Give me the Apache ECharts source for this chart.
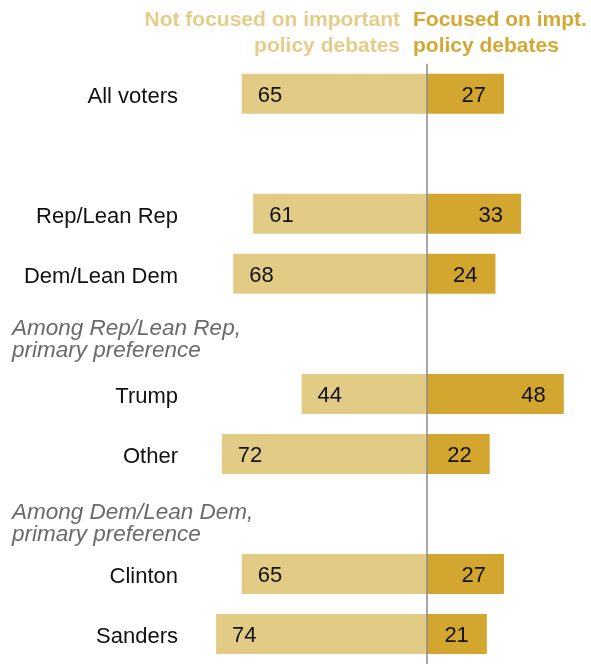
<!DOCTYPE html>
<html>
<head>
<meta charset="utf-8">
<script src="https://cdn.jsdelivr.net/npm/echarts@6/dist/echarts.min.js"></script>
<style>
html,body{margin:0;padding:0;background:#fff;}
#c{width:591px;height:664px;}
</style>
</head>
<body>
<div id="c"></div>
<script>
const categories = ['All voters', '', 'Rep/Lean Rep', 'Dem/Lean Dem', ' ', 'Trump', 'Other', '  ', 'Clinton', 'Sanders'];
const notFocused = [65, null, 61, 68, null, 44, 72, null, 65, 74];
const focused = [27, null, 33, 24, null, 48, 22, null, 27, 21];
const headerLeft = ['Not focused on important', 'policy debates'];
const headerRight = ['Focused on impt.', 'policy debates'];
const annotations = [
  { text: 'Among Rep/Lean Rep,\nprimary preference', top: 317 },
  { text: 'Among Dem/Lean Dem,\nprimary preference', top: 501 }
];

const LIGHT = '#E2CB84';
const DARK = '#D3A630';
const FONT = '"Liberation Sans", Arial, sans-serif';

const chart = echarts.init(document.getElementById('c'), null, { renderer: 'canvas' });

const graphics = [];
headerLeft.forEach((t, i) => graphics.push({
  type: 'text', x: 400, y: 20 + i * 26,
  style: { text: t, font: 'bold 21px ' + FONT, fill: '#E3CD88', align: 'right', verticalAlign: 'middle' }
}));
headerRight.forEach((t, i) => graphics.push({
  type: 'text', x: 413, y: 20 + i * 26,
  style: { text: t, font: 'bold 21px ' + FONT, fill: '#D4A833', align: 'left', verticalAlign: 'middle' }
}));
annotations.forEach(a => graphics.push({
  type: 'text', left: 12, top: a.top,
  style: { text: a.text, font: 'italic 22.5px ' + FONT, fill: '#6a6a6a', lineHeight: 22.5 }
}));

chart.setOption({
  animation: false,
  grid: { left: 199, top: 63.8, width: 384.75, height: 604.4, containLabel: false },
  xAxis: { type: 'value', min: -80, max: 55, show: false },
  yAxis: {
    type: 'category', data: categories, inverse: true,
    axisLine: { show: false }, axisTick: { show: false },
    axisLabel: {
      margin: 21,
      formatter: v => v.trim() ? '{a|' + v + '}' : '',
      rich: { a: { color: '#111', fontSize: 22, fontFamily: FONT, padding: [6, 0, 0, 0] } }
    }
  },
  series: [
    {
      type: 'bar', stack: 'total', barWidth: 40,
      data: notFocused.map(v => v == null ? '-' : -v),
      itemStyle: { color: LIGHT },
      label: { show: true, position: 'insideLeft', distance: 16, color: '#111', fontSize: 22, fontFamily: FONT, offset: [0, 2], formatter: p => Math.abs(p.value) },
      markLine: {
        silent: true, symbol: 'none', label: { show: false },
        lineStyle: { color: '#8a8a8a', width: 1.5, type: 'solid' },
        data: [{ xAxis: 0 }]
      }
    },
    {
      type: 'bar', stack: 'total', barWidth: 40,
      data: focused.map(v => v == null ? '-' : v),
      itemStyle: { color: DARK },
      label: { show: true, position: 'insideRight', distance: 18, color: '#111', fontSize: 22, fontFamily: FONT, offset: [0, 2] }
    }
  ],
  graphic: graphics
});
</script>
</body>
</html>
